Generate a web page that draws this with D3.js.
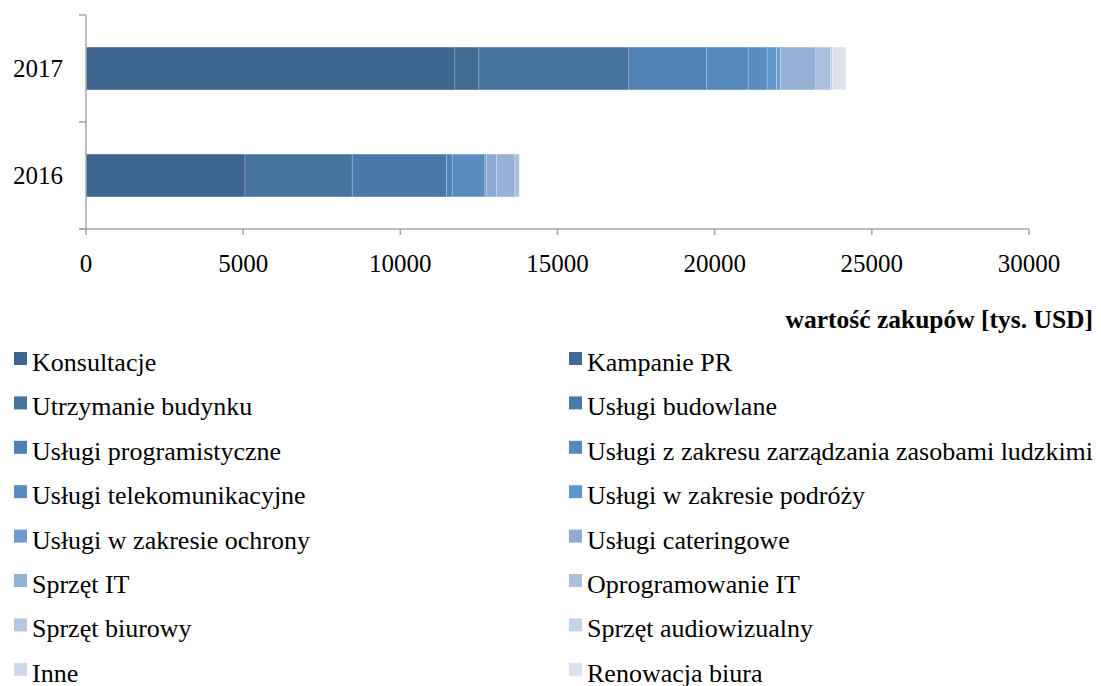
<!DOCTYPE html>
<html>
<head>
<meta charset="utf-8">
<script src="https://cdn.jsdelivr.net/npm/d3@7"></script>
<style>
  html, body { margin: 0; padding: 0; background: #fff; }
  svg { display: block; }
  svg text { font-family: "Liberation Serif", "Times New Roman", serif; }
</style>
</head>
<body>
<svg id="chart" width="1101" height="686"></svg>
<script>
// Years shown on the category axis (top to bottom)
const years = ["2017", "2016"];

// Purchase categories, in stacking / legend order
const categories = [
  "Konsultacje",
  "Kampanie PR",
  "Utrzymanie budynku",
  "Usługi budowlane",
  "Usługi programistyczne",
  "Usługi z zakresu zarządzania zasobami ludzkimi",
  "Usługi telekomunikacyjne",
  "Usługi w zakresie podróży",
  "Usługi w zakresie ochrony",
  "Usługi cateringowe",
  "Sprzęt IT",
  "Oprogramowanie IT",
  "Sprzęt biurowy",
  "Sprzęt audiowizualny",
  "Inne",
  "Renowacja biura"
];

// Purchase value per category [thousand USD]
const values2017 = [11737, 763, 4771, 0, 2471, 1324, 604, 299, 127, 0, 1123, 467, 0, 64, 0, 423];
const values2016 = [5057, 0, 3413, 3003, 178, 0, 1040, 0, 54, 318, 582, 137, 0, 0, 0, 22];

// Fill colour per category
const colors = [
  "#3e6590", "#416a94", "#47739f", "#4a79a8", "#4f82b2", "#5588bb",
  "#5a8cc0", "#6097cb", "#6f9bcc", "#8eaad2", "#97b1d6", "#aac0de",
  "#b6c7e2", "#c4d2e6", "#cdd9ea", "#dbe2ee"
];

// Value axis ticks
const xTicks = [0, 5000, 10000, 15000, 20000, 25000, 30000];
const xTitle = "wartość zakupów [tys. USD]";

const svg = d3.select("#chart");
const axisColor = "#a6a6a6";

const x = d3.scaleLinear().domain([0, 30000]).range([86, 1029]);
const y = d3.scaleBand().domain(years).range([15, 229]).paddingInner(0.6).paddingOuter(0.3);

// Build rows for the stack
const rows = years.map(yr => {
  const vals = yr === "2017" ? values2017 : values2016;
  const r = { year: yr };
  categories.forEach((c, i) => r[c] = vals[i]);
  return r;
});
const stacked = d3.stack().keys(categories)(rows);

// Bars
const barG = svg.append("g");
stacked.forEach((s, i) => {
  barG.selectAll(null)
    .data(s.filter(d => d[1] - d[0] > 0))
    .join("rect")
    .attr("x", d => x(d[0]))
    .attr("y", d => y(d.data.year))
    .attr("width", d => x(d[1]) - x(d[0]))
    .attr("height", y.bandwidth())
    .attr("fill", colors[i])
    .attr("stroke", "rgba(255,255,255,0.25)")
    .attr("stroke-width", 0.8);
});

// Category axis (vertical) with ticks at band edges
const yAxisG = svg.append("g");
yAxisG.append("line")
  .attr("x1", x(0)).attr("x2", x(0))
  .attr("y1", y.range()[0]).attr("y2", y.range()[1])
  .attr("stroke", axisColor).attr("stroke-width", 1.5);
const edges = [y.range()[0], (y(years[0]) + y.bandwidth() + y(years[1])) / 2, y.range()[1]];
yAxisG.selectAll(null).data(edges).join("line")
  .attr("x1", x(0) - 7).attr("x2", x(0))
  .attr("y1", d => d).attr("y2", d => d)
  .attr("stroke", axisColor).attr("stroke-width", 1.5);
yAxisG.selectAll(null).data(years).join("text")
  .attr("x", 38)
  .attr("y", d => y(d) + y.bandwidth() / 2)
  .attr("dy", "0.35em")
  .attr("text-anchor", "middle")
  .attr("font-size", 25)
  .attr("fill", "#000")
  .text(d => d);

// Value axis (horizontal)
const xAxisG = svg.append("g");
xAxisG.append("line")
  .attr("x1", x(0) - 7).attr("x2", x(30000))
  .attr("y1", y.range()[1]).attr("y2", y.range()[1])
  .attr("stroke", axisColor).attr("stroke-width", 1.5);
xAxisG.selectAll(null).data(xTicks).join("line")
  .attr("x1", d => x(d)).attr("x2", d => x(d))
  .attr("y1", y.range()[1]).attr("y2", y.range()[1] + 6)
  .attr("stroke", axisColor).attr("stroke-width", 1.5);
xAxisG.selectAll(null).data(xTicks).join("text")
  .attr("x", d => x(d))
  .attr("y", 272)
  .attr("text-anchor", "middle")
  .attr("font-size", 25)
  .attr("fill", "#000")
  .text(d => d);

svg.append("text")
  .attr("x", 1093).attr("y", 328)
  .attr("text-anchor", "end")
  .attr("font-size", 25.5)
  .attr("font-weight", "bold")
  .attr("fill", "#000")
  .text(xTitle);

// Legend: two columns, filled row by row
const legendG = svg.append("g");
const colX = [14, 569];
const rowTop = 352, rowStep = 44.4;
categories.forEach((c, i) => {
  const col = i % 2, row = Math.floor(i / 2);
  const g = legendG.append("g")
    .attr("transform", `translate(${colX[col]},${rowTop + row * rowStep})`);
  g.append("rect").attr("x", 0).attr("y", 0).attr("width", 13).attr("height", 13).attr("fill", colors[i]);
  g.append("text").attr("x", 18).attr("y", 19)
    .attr("font-size", 26).attr("fill", "#000").text(c);
});
</script>
</body>
</html>
